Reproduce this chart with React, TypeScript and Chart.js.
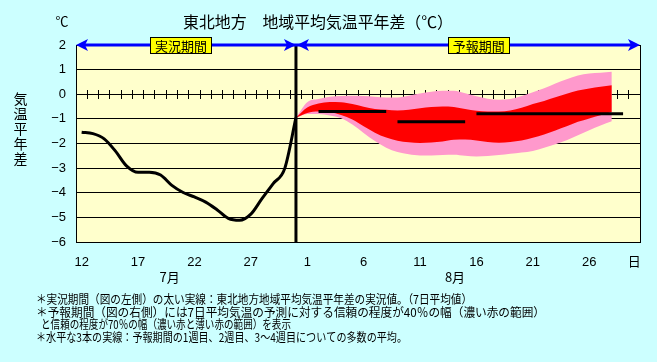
import React, { useEffect, useRef } from 'react';
import { Chart, registerables } from 'chart.js';

Chart.register(...registerables);

// One slot per day: 12 Jul .. 30 Aug
const dayLabels = [
  '12', '13', '14', '15', '16', '17', '18', '19', '20', '21',
  '22', '23', '24', '25', '26', '27', '28', '29', '30', '31',
  '1', '2', '3', '4', '5', '6', '7', '8', '9', '10',
  '11', '12', '13', '14', '15', '16', '17', '18', '19', '20',
  '21', '22', '23', '24', '25', '26', '27', '28', '29', '30',
];
const xTickSlots = [0, 5, 10, 15, 20, 25, 30, 35, 40, 45, 49];
const xTickTexts = ['12', '17', '22', '27', '1', '6', '11', '16', '21', '26', '日'];
const monthLabels = ['7月', '8月'];
const periodLabels = ['実況期間', '予報期間'];

// Observed 7-day mean anomaly (slots 0..19)
const observed = [
  -1.54, -1.6, -1.81, -2.31, -2.92, -3.17, -3.17, -3.28, -3.7, -3.99,
  -4.17, -4.38, -4.69, -5.04, -5.12, -4.87, -4.23, -3.62, -3.02, -0.95,
];
const splitSlot = 19;

// Forecast ranges (slots 19..47)
const forecastStart = 19;
const p70hi = [
  -0.95, -0.32, -0.19, -0.1, -0.07, -0.06, -0.07, -0.1, -0.13, -0.13,
  -0.06, 0.03, 0.1, 0.14, 0.14, 0.04, -0.08, -0.18, -0.22, -0.19,
  -0.07, 0.08, 0.24, 0.44, 0.61, 0.76, 0.84, 0.87, 0.91,
];
const p40hi = [
  -0.95, -0.54, -0.38, -0.31, -0.32, -0.4, -0.51, -0.6, -0.63, -0.66,
  -0.63, -0.57, -0.52, -0.5, -0.52, -0.6, -0.67, -0.7, -0.7, -0.66,
  -0.55, -0.4, -0.27, -0.12, 0.02, 0.15, 0.23, 0.3, 0.37,
];
const p40lo = [
  -0.96, -0.76, -0.7, -0.73, -0.84, -1.03, -1.3, -1.56, -1.76, -1.89,
  -1.95, -1.98, -1.96, -1.92, -1.85, -1.84, -1.88, -1.94, -1.97, -1.94,
  -1.88, -1.77, -1.63, -1.47, -1.3, -1.12, -0.98, -0.85, -0.72,
];
const p70lo = [
  -0.96, -0.8, -0.8, -0.86, -0.97, -1.23, -1.57, -1.9, -2.17, -2.35,
  -2.44, -2.49, -2.49, -2.47, -2.46, -2.5, -2.53, -2.51, -2.47, -2.42,
  -2.37, -2.3, -2.17, -2.03, -1.87, -1.67, -1.46, -1.27, -1.1,
];

// Weekly ensemble means: week 1, week 2, weeks 3-4
const weekFrom = [21, 28, 35];
const weekTo = [27, 34, 48];
const weekMean = [-0.7, -1.12, -0.79];

const titleText = '東北地方　地域平均気温平年差（℃）';
const yTitleChars = ['気', '温', '平', '年', '差'];
const notes = [
  '＊実況期間（図の左側）の太い実線：東北地方地域平均気温平年差の実況値。（7日平均値）',
  '＊予報期間（図の右側）には7日平均気温の予測に対する信頼の程度が40％の幅（濃い赤の範囲）',
  'と信頼の程度が70％の幅（濃い赤と薄い赤の範囲）を表示',
  '＊水平な3本の実線：予報期間の1週目、2週目、3～4週目についての多数の平均。',
];

const JP = "'Noto Sans CJK JP', sans-serif";
const NUM = "'Liberation Sans', 'Noto Sans CJK JP', sans-serif";

const align = (p: number) => Math.round(p - 0.5) + 0.5;

const decor = {
  id: 'decor',
  beforeDraw(chart: any) {
    const { ctx, chartArea: a } = chart;
    ctx.save();
    ctx.fillStyle = '#CCFFFF';
    ctx.fillRect(0, 0, chart.width, chart.height);
    ctx.fillStyle = '#FFFFCC';
    ctx.fillRect(a.left, a.top, a.right - a.left, a.bottom - a.top);
    ctx.restore();
  },
  beforeDatasetsDraw(chart: any) {
    const { ctx } = chart;
    const xs = chart.scales.x;
    const ys = chart.scales.y;
    const y0 = align(ys.getPixelForValue(0));
    ctx.save();
    ctx.strokeStyle = '#000';
    ctx.lineWidth = 1;
    ctx.beginPath();
    for (let i = 0; i < dayLabels.length - 1; i++) {
      const px = align(xs.getPixelForValue(i + 0.5));
      ctx.moveTo(px, y0 - 4.5);
      ctx.lineTo(px, y0 + 4.5);
    }
    ctx.stroke();
    ctx.restore();
  },
  afterDatasetsDraw(chart: any) {
    const { ctx, chartArea: a } = chart;
    const xs = chart.scales.x;
    const ys = chart.scales.y;
    ctx.save();
    // frame
    ctx.strokeStyle = '#000';
    ctx.lineWidth = 1;
    ctx.strokeRect(align(a.left), align(a.top), Math.round(a.right - a.left), Math.round(a.bottom - a.top));

    // period arrows
    const ay = ys.getPixelForValue(2);
    const xl = xs.getPixelForValue(-0.5);
    const xm = xs.getPixelForValue(splitSlot);
    const xr = xs.getPixelForValue(dayLabels.length - 0.5);
    ctx.strokeStyle = '#0000FF';
    ctx.fillStyle = '#0000FF';
    ctx.lineWidth = 3;
    ctx.beginPath();
    ctx.moveTo(xl + 6, ay);
    ctx.lineTo(xr - 6, ay);
    ctx.stroke();
    const head = (tip: number, dir: number) => {
      ctx.beginPath();
      ctx.moveTo(tip, ay);
      ctx.lineTo(tip - dir * 12, ay - 6);
      ctx.lineTo(tip - dir * 9, ay);
      ctx.lineTo(tip - dir * 12, ay + 6);
      ctx.closePath();
      ctx.fill();
    };
    head(xl, -1);
    head(xm, 1);
    head(xm + 1, -1);
    head(xr, 1);

    // period label boxes
    const labelSlots = [8.8, 35.2];
    ctx.font = `13px ${JP}`;
    ctx.textAlign = 'center';
    ctx.textBaseline = 'middle';
    periodLabels.forEach((t, i) => {
      const cx = xs.getPixelForValue(labelSlots[i]);
      const w = 61;
      const h = 16;
      const bx = Math.round(cx - w / 2) + 0.5;
      const by = Math.round(ay - h / 2) + 0.5;
      ctx.fillStyle = '#FFFF00';
      ctx.fillRect(bx, by, w, h);
      ctx.strokeStyle = '#000';
      ctx.lineWidth = 1;
      ctx.strokeRect(bx, by, w, h);
      ctx.fillStyle = '#000';
      ctx.fillText(t, cx, ay + 1, w - 6);
    });
    ctx.restore();
  },
  afterDraw(chart: any) {
    const { ctx } = chart;
    const xs = chart.scales.x;
    ctx.save();
    ctx.fillStyle = '#000';
    ctx.textBaseline = 'middle';
    ctx.textAlign = 'center';
    // title
    ctx.font = `16px ${JP}`;
    ctx.fillText(titleText, 318, 22, 270);
    // unit
    ctx.font = `13px ${NUM}`;
    ctx.fillText('℃', 62, 22);
    // vertical y title
    ctx.font = `14px ${JP}`;
    yTitleChars.forEach((c, i) => ctx.fillText(c, 20.5, 99 + i * 14.9));
    // month labels
    const monthSlots = [7.8, 33.1];
    ctx.font = `13px ${JP}`;
    monthLabels.forEach((m, i) => ctx.fillText(m, xs.getPixelForValue(monthSlots[i]), 277));
    // notes
    ctx.textAlign = 'left';
    ctx.font = `12px ${JP}`;
    const noteX = [36, 36, 41, 36];
    const noteY = [299, 312, 324.5, 337];
    const noteW = [436, 509, 250, 371];
    notes.forEach((t, i) => ctx.fillText(t, noteX[i], noteY[i], noteW[i]));
    ctx.restore();
  },
};

export default function App() {
  const ref = useRef<HTMLCanvasElement>(null);
  useEffect(() => {
    const canvas = ref.current;
    if (!canvas) return;
    const pts = (start: number, vals: number[]) => vals.map((v, i) => ({ x: start + i, y: v }));
    const base = {
      pointRadius: 0,
      pointHoverRadius: 0,
      cubicInterpolationMode: 'monotone' as const,
    };
    const datasets: any[] = [
      { ...base, label: 'observed', data: pts(0, observed), borderColor: '#000', borderWidth: 3, fill: false },
      {
        ...base,
        label: 'split',
        data: [{ x: splitSlot, y: -6 }, { x: splitSlot, y: 2 }],
        borderColor: '#000',
        borderWidth: 3,
        fill: false,
      },
      ...weekMean.map((m, i) => ({
        ...base,
        label: 'week' + i,
        data: [{ x: weekFrom[i], y: m }, { x: weekTo[i], y: m }],
        borderColor: '#000',
        borderWidth: 3,
        borderCapStyle: 'butt',
        fill: false,
      })),
      { ...base, label: '40hi', data: pts(forecastStart, p40hi), borderColor: 'rgba(0,0,0,0)', borderWidth: 0, backgroundColor: '#FF0000', fill: '+1' },
      { ...base, label: '40lo', data: pts(forecastStart, p40lo), borderColor: 'rgba(0,0,0,0)', borderWidth: 0, fill: false },
      { ...base, label: '70hi', data: pts(forecastStart, p70hi), borderColor: 'rgba(0,0,0,0)', borderWidth: 0, backgroundColor: '#FF99CC', fill: '+1' },
      { ...base, label: '70lo', data: pts(forecastStart, p70lo), borderColor: 'rgba(0,0,0,0)', borderWidth: 0, fill: false },
    ];
    const chart = new Chart(canvas, {
      type: 'line',
      data: { datasets },
      plugins: [decor],
      options: {
        animation: false,
        responsive: false,
        devicePixelRatio: 1,
        layout: { padding: { top: 45, right: 17, bottom: 0, left: 0 } },
        plugins: { legend: { display: false }, tooltip: { enabled: false }, title: { display: false } },
        scales: {
          x: {
            type: 'linear',
            min: -0.5,
            max: dayLabels.length - 0.5,
            grid: { display: false, drawTicks: false },
            border: { display: false },
            afterBuildTicks: (axis: any) => {
              axis.ticks = xTickSlots.map((v) => ({ value: v }));
            },
            afterFit: (axis: any) => {
              axis.height = 120;
            },
            ticks: {
              autoSkip: false,
              maxRotation: 0,
              padding: 13,
              color: '#000',
              font: { size: 13, family: NUM },
              callback: (v: any) => {
                const idx = xTickSlots.indexOf(Number(v));
                return idx >= 0 ? xTickTexts[idx] : '';
              },
            },
          },
          y: {
            min: -6,
            max: 2,
            grid: { color: '#000', lineWidth: 1, drawTicks: false },
            border: { display: false },
            afterFit: (axis: any) => {
              axis.width = 76;
            },
            ticks: {
              stepSize: 1,
              padding: 10,
              color: '#000',
              font: { size: 13, family: NUM },
              callback: (v: any) => (Number(v) < 0 ? '−' + Math.abs(Number(v)) : String(v)),
            },
          },
        },
      },
    });
    return () => chart.destroy();
  }, []);
  return (
    <div style={{ position: 'fixed', left: 0, top: 0, width: 657, height: 362, background: '#CCFFFF' }}>
      <canvas ref={ref} width={657} height={362} style={{ display: 'block' }} />
    </div>
  );
}
